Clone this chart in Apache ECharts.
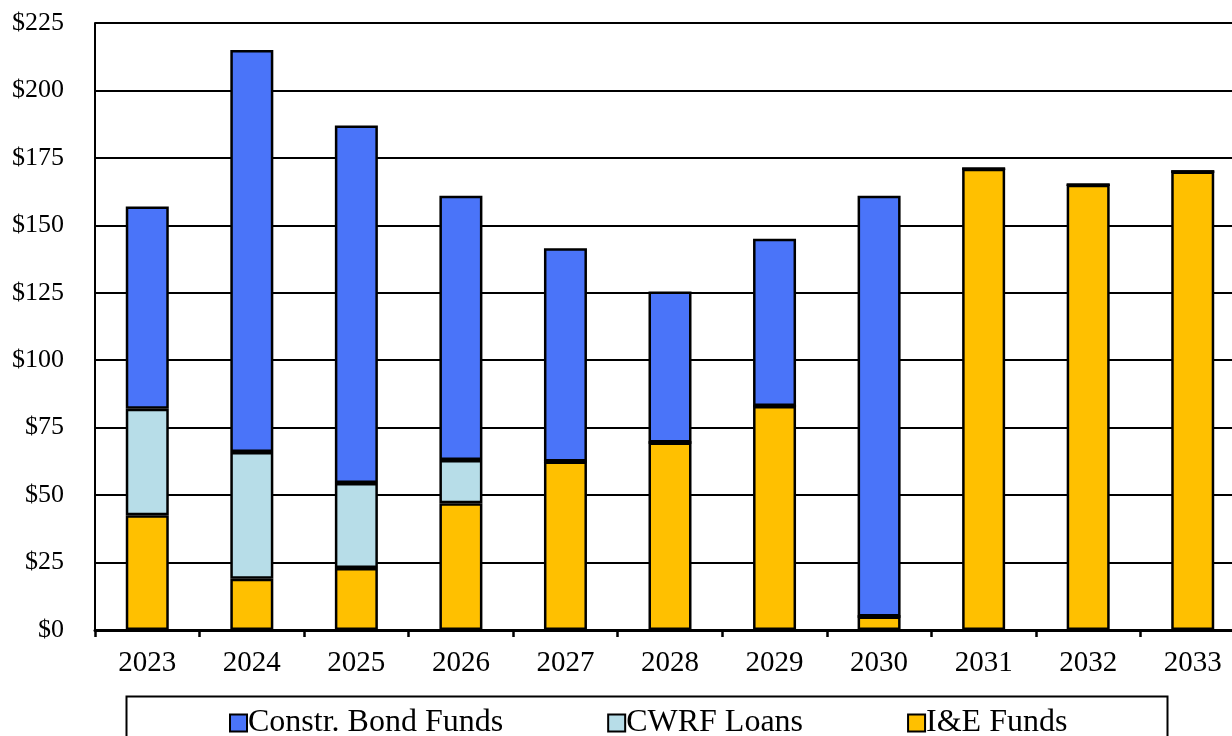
<!DOCTYPE html>
<html><head><meta charset="utf-8">
<script src="https://cdn.jsdelivr.net/npm/echarts@6/dist/echarts.min.js"></script>
<style>html,body{margin:0;padding:0;background:#fff;overflow:hidden;width:1232px;height:736px}#c{width:1245px;height:736px}</style>
</head><body><div id="c"></div>
<script>
const years = ['2023','2024','2025','2026','2027','2028','2029','2030','2031','2032','2033'];
const ieFunds = [42.5, 19, 23, 47, 62.5, 69.5, 83, 5, 171, 165, 170];
const cwrfLoans = [39.5, 47, 31.5, 16, 0, 0, 0, 0, 0, 0, 0];
const bondFunds = [75, 149, 132.5, 98, 79, 56, 62, 156, 0, 0, 0];
const seriesNames = ['Constr. Bond Funds', 'CWRF Loans', 'I&E Funds'];
const yTicks = [0, 25, 50, 75, 100, 125, 150, 175, 200, 225];

const FONT = 'Liberation Serif';
const chart = echarts.init(document.getElementById('c'));
const barStyle = c => ({color: c, borderColor: '#000', borderWidth: 2.5});
chart.setOption({
  animation: false,
  grid: {left: 95, right: 0, top: 23, bottom: 106},
  xAxis: {
    type: 'category', data: years,
    axisLine: {lineStyle: {color: '#000', width: 3}},
    axisTick: {show: true, length: 7, lineStyle: {color: '#000', width: 2.5}},
    axisLabel: {color: '#000', fontFamily: FONT, fontSize: 29, margin: 19}
  },
  yAxis: {
    type: 'value', min: yTicks[0], max: yTicks[yTicks.length-1], interval: 25,
    axisLine: {show: true, lineStyle: {color: '#000', width: 2}},
    axisTick: {show: false},
    splitLine: {lineStyle: {color: '#000', width: 2}},
    axisLabel: {color: '#000', fontFamily: FONT, fontSize: 26, margin: 31, formatter: '${value}'}
  },
  legend: {
    data: seriesNames,
    left: 224, top: 702,
    itemGap: 104, itemWidth: 17, itemHeight: 17,
    icon: 'rect',
    textStyle: {color: '#000', fontFamily: FONT, fontSize: 32, padding: [0,0,0,-4]},
    itemStyle: {borderColor: '#000', borderWidth: 2}
  },
  graphic: [{type: 'rect', left: 124, top: 694, shape: {width: 1041, height: 60}, style: {fill: 'none', stroke: '#000', lineWidth: 2}, z: 100}],
  series: [
    {name: 'I&E Funds', type: 'bar', stack: 's', data: ieFunds, barWidth: 43, itemStyle: barStyle('#FFC000')},
    {name: 'CWRF Loans', type: 'bar', stack: 's', data: cwrfLoans, barWidth: 43, itemStyle: barStyle('#B7DDE8')},
    {name: 'Constr. Bond Funds', type: 'bar', stack: 's', data: bondFunds, barWidth: 43, itemStyle: barStyle('#4A74F9')}
  ]
});
</script></body></html>
